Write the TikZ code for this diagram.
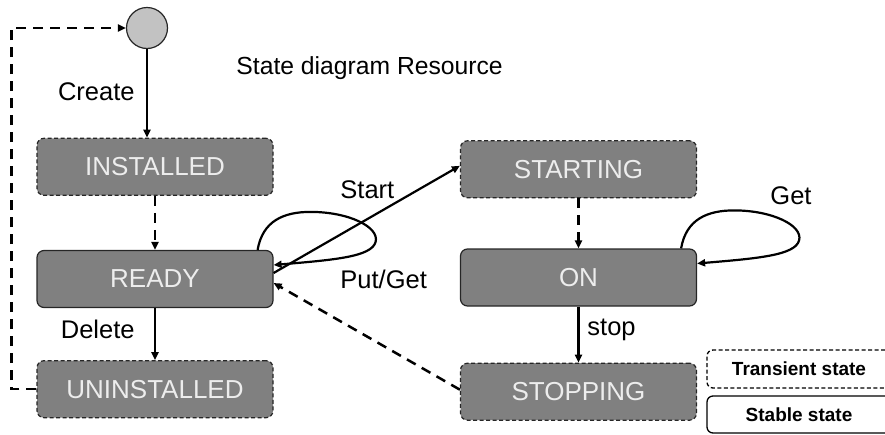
\documentclass[tikz,border=0pt]{standalone}
\usepackage{fontspec}
\setmainfont{Liberation Sans}
\usetikzlibrary{arrows.meta, positioning, calc}
\definecolor{stategray}{gray}{0.5}
\definecolor{initgray}{gray}{0.76}

\begin{document}
\begin{tikzpicture}[
    x=1pt, y=-1pt, >={Triangle[length=8pt,width=7pt]},
    line width=2.2pt,
    state/.style={draw=black!85, line width=1.2pt, rounded corners=7pt,
      fill=stategray, minimum width=236pt, minimum height=57pt,
      text=white!93!black, font=\fontsize{26}{30}\selectfont},
    transient/.style={state, dash pattern=on 4pt off 2.5pt},
    legendbox/.style={draw, line width=1.3pt, rounded corners=6pt, fill=white,
      minimum width=184pt, minimum height=38pt,
      font=\bfseries\fontsize{19}{22}\selectfont},
    lbl/.style={anchor=base west, font=\fontsize{25.5}{30}\selectfont},
    dashline/.style={line width=2.5pt, dash pattern=on 10pt off 7pt}
  ]
  \useasboundingbox (0,0) rectangle (885,434);

  % start state and title
  \node[circle, draw=black!85, line width=1.2pt, fill=initgray,
        minimum size=41pt, inner sep=0pt] (init) at (147,28) {};
  \node[lbl, font=\fontsize{24.7}{30}\selectfont] (title) at (232,74)
    {State diagram Resource};

  % left column
  \node[state] (ready) at (155,279) {READY};
  \node[transient, above=54pt of ready] (installed) {INSTALLED};
  \node[transient, below=52pt of ready] (uninstalled) {UNINSTALLED};

  % right column
  \node[state] (on) at (578.5,277.5) {ON};
  \node[transient, above=50pt of on] (starting) {STARTING};
  \node[transient, below=56pt of on] (stopping) {STOPPING};

  % legend
  \node[legendbox, dash pattern=on 4pt off 2.5pt] (transientkey) at (799,369)
    {Transient state};
  \node[legendbox, minimum height=37pt] (stablekey) at (799,414.5)
    {Stable state};

  % transitions
  \draw[->] (init) -- (init |- installed.north);
  \draw[->, dashline] (installed) -- (ready);
  \draw[->] (ready) -- (uninstalled);
  \draw[->, dashline] (uninstalled.west) -- ++(-25,0) |- (init);
  \draw[->] ([yshift=6pt]ready.east) -- ([yshift=3.5pt]starting.west);
  \draw[->, dashline] ([yshift=2pt]stopping.west) -- ([yshift=-4pt]ready.east);
  \draw[->, dashline] (starting) -- (on);
  \draw[->] (on) -- (stopping);
  \foreach \s in {ready,on}
    \draw[->] ([xshift=-16pt]\s.north east)
      .. controls ($(\s.north east)+(-11,-29)$) and ($(\s.north east)+(10,-38)$)
      .. ($(\s.north east)+(37,-38)$)
      .. controls ($(\s.north east)+(75,-38)$) and ($(\s.north east)+(106,-23)$)
      .. ($(\s.north east)+(102,-8)$)
      .. controls ($(\s.north east)+(98,7)$) and ($(\s.north east)+(60,10)$)
      .. ([yshift=14pt]\s.east);

  % labels
  \node[lbl, anchor=base east] (createlbl) at (139,100) {Create};
  \node[lbl, anchor=base east] (deletelbl) at (139,338) {Delete};
  \node[lbl] (startlbl) at (336,198) {Start};
  \node[lbl] (putgetlbl) at (336,288) {Put/Get};
  \node[lbl] (stoplbl) at (583,335) {stop};
  \node[lbl] (getlbl) at (766,204) {Get};
\end{tikzpicture}
\end{document}
